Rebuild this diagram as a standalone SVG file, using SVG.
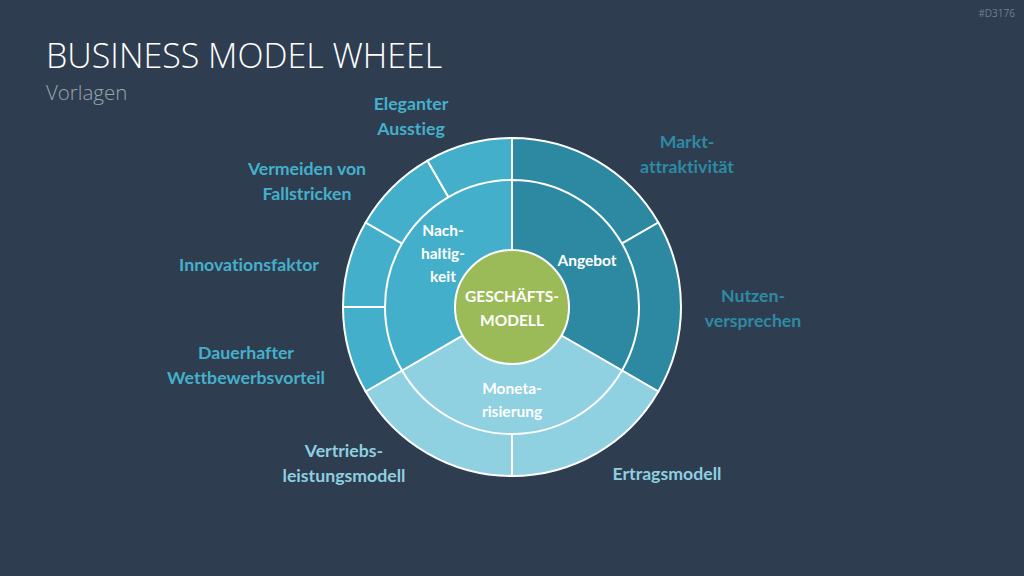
<svg xmlns="http://www.w3.org/2000/svg" width="1024" height="576" viewBox="0 0 1024 576">
<style>
.seg{stroke:#FFFFFF;stroke-width:2;stroke-linejoin:round}
.dark{fill:#2D89A1}
.mid{fill:#44AFCA}
.light{fill:#8FD0E1}
.lbl{font-family:Lato,"Open Sans","Liberation Sans",sans-serif;font-weight:700;font-size:17.7px;text-anchor:middle;font-variant-ligatures:none}
.in{font-family:Lato,"Open Sans","Liberation Sans",sans-serif;font-weight:700;font-size:15.5px;text-anchor:middle;fill:#FFFFFF;font-variant-ligatures:none}
.tmid{fill:#45B0CB}
.tdark{fill:#2E8BA3}
.tlight{fill:#8ECFE0}
</style>
<rect x="0" y="0" width="1024" height="576" fill="#2E3D4F"/>
<text x="1015" y="17" font-family="Open Sans,Liberation Sans,sans-serif" font-size="10" fill="#6F8092" text-anchor="end">#D3176</text>
<text x="46" y="68" font-family="Open Sans,Liberation Sans,sans-serif" font-weight="300" font-size="34" fill="#FFFFFF">BUSINESS MODEL WHEEL</text>
<text x="46" y="100" font-family="Open Sans,Liberation Sans,sans-serif" font-weight="300" font-size="20.5" fill="#9AA6B2">Vorlagen</text>

<g id="wheel-outer">
<g id="marktattraktivitaet"><path class="seg dark" d="M512,307 L512,138 A169,169 0 0 1 658.36,222.5 Z"/></g>
<g id="nutzenversprechen"><path class="seg dark" d="M512,307 L658.36,222.5 A169,169 0 0 1 658.36,391.5 Z"/></g>
<g id="ertragsmodell"><path class="seg light" d="M512,307 L658.36,391.5 A169,169 0 0 1 512,476 Z"/></g>
<g id="vertriebsleistungsmodell"><path class="seg light" d="M512,307 L512,476 A169,169 0 0 1 365.64,391.5 Z"/></g>
<g id="dauerhafter"><path class="seg mid" d="M512,307 L365.64,391.5 A169,169 0 0 1 343,307 Z"/></g>
<g id="innovationsfaktor"><path class="seg mid" d="M512,307 L343,307 A169,169 0 0 1 365.64,222.5 Z"/></g>
<g id="vermeiden"><path class="seg mid" d="M512,307 L365.64,222.5 A169,169 0 0 1 427.5,160.64 Z"/></g>
<g id="eleganter"><path class="seg mid" d="M512,307 L427.5,160.64 A169,169 0 0 1 512,138 Z"/></g>
</g>

<g id="angebot">
<path class="seg dark" d="M512,307 L512,180 A127,127 0 0 1 621.99,370.5 Z"/>
<text class="in" x="587" y="266">Angebot</text>
</g>
<g id="monetarisierung">
<path class="seg light" d="M512,307 L621.99,370.5 A127,127 0 0 1 402.01,370.5 Z"/>
<text class="in" x="512" y="394">Moneta-</text>
<text class="in" x="512" y="417">risierung</text>
</g>
<g id="nachhaltigkeit">
<path class="seg mid" d="M512,307 L402.01,370.5 A127,127 0 0 1 512,180 Z"/>
<text class="in" x="443" y="236">Nach-</text>
<text class="in" x="443" y="259">haltig-</text>
<text class="in" x="443" y="282">keit</text>
</g>
<g id="geschaeftsmodell">
<circle class="seg" cx="512" cy="307" r="57" fill="#9BBB59"/>
<text class="in" x="512" y="302">GESCHÄFTS-</text>
<text class="in" x="512" y="326">MODELL</text>
</g>

<g id="labels">
<text class="lbl tmid" x="411" y="110">Eleganter</text>
<text class="lbl tmid" x="411" y="135">Ausstieg</text>
<text class="lbl tmid" x="307" y="175">Vermeiden von</text>
<text class="lbl tmid" x="307" y="200">Fallstricken</text>
<text class="lbl tmid" x="249" y="271">Innovationsfaktor</text>
<text class="lbl tmid" x="246" y="359">Dauerhafter</text>
<text class="lbl tmid" x="246" y="384">Wettbewerbsvorteil</text>
<text class="lbl tlight" x="344" y="457">Vertriebs-</text>
<text class="lbl tlight" x="344" y="482">leistungsmodell</text>
<text class="lbl tlight" x="667" y="480">Ertragsmodell</text>
<text class="lbl tdark" x="753" y="302">Nutzen-</text>
<text class="lbl tdark" x="753" y="327">versprechen</text>
<text class="lbl tdark" x="687" y="148">Markt-</text>
<text class="lbl tdark" x="687" y="173">attraktivität</text>
</g>
</svg>
